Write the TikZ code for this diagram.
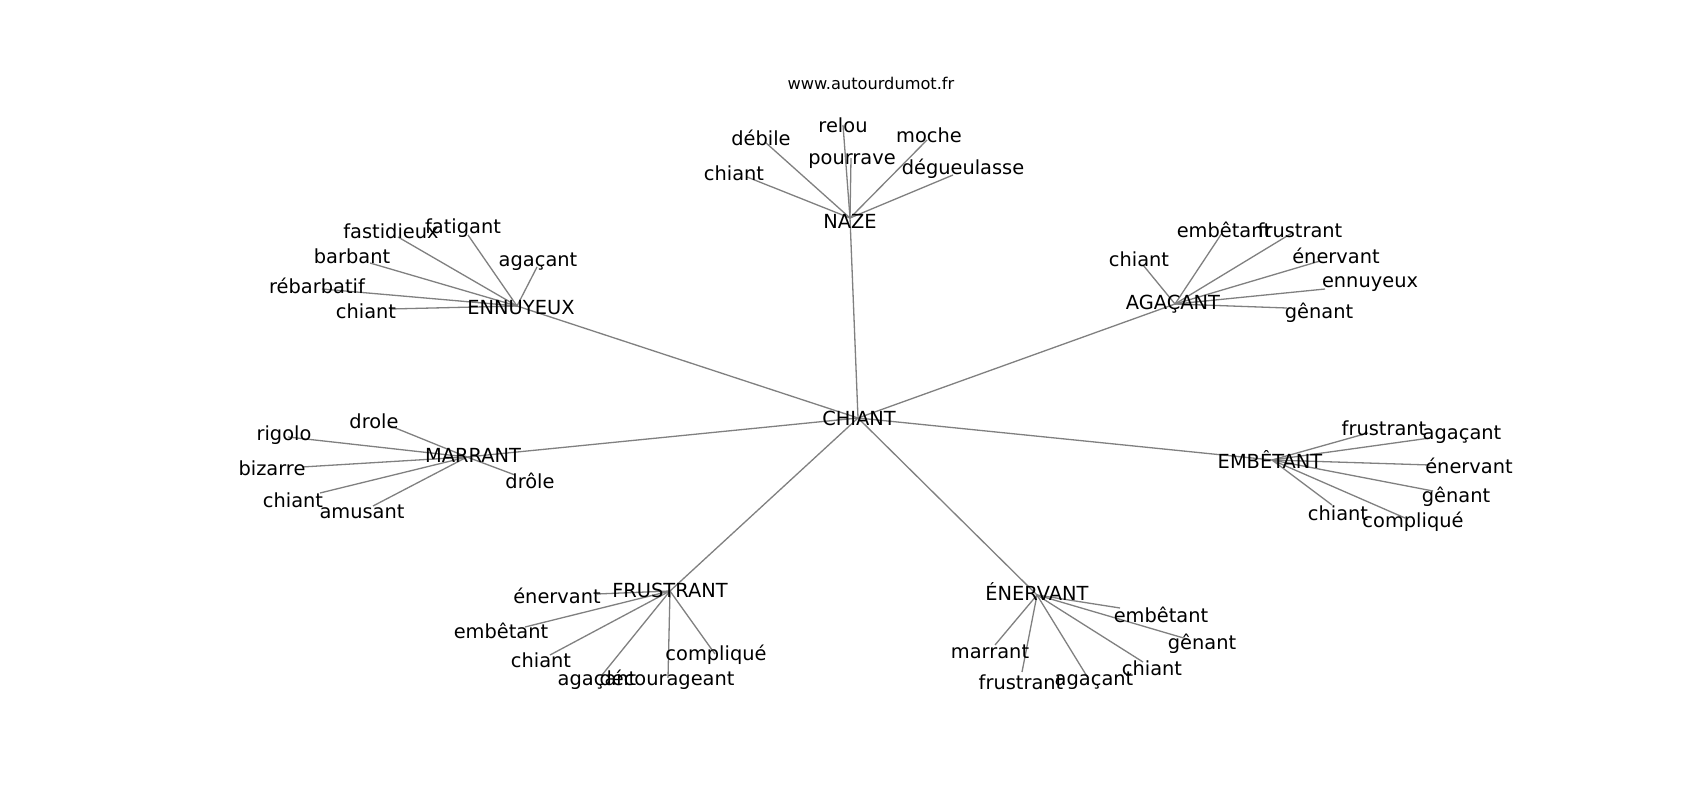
\documentclass[tikz,border=0pt]{standalone}
\usepackage{fontspec}
\setmainfont{DejaVu Sans}
\definecolor{edgec}{HTML}{808080}
\begin{document}
\begin{tikzpicture}[x=1pt,y=-1pt,
  lbl/.style={anchor=base,inner sep=0pt,text=black,font=\fontsize{19.4}{23}\selectfont},
  ttl/.style={anchor=base,inner sep=0pt,text=black,font=\fontsize{16.2}{19}\selectfont},
  edge/.style={draw=edgec,line width=1.3pt}]
\useasboundingbox[fill=white] (0,0) rectangle (1700,800);
% ---- edge end points (node centres)
\coordinate (cH) at (858,418);
% NAZE
\coordinate (cNZ) at (850,218);
\coordinate (cNZa) at (843,125);
\coordinate (cNZb) at (765,142);
\coordinate (cNZc) at (927,140);
\coordinate (cNZd) at (851,158);
\coordinate (cNZe) at (747,177);
\coordinate (cNZf) at (953,175);
% ENNUYEUX
\coordinate (cEN) at (517,306);
\coordinate (cENa) at (398,237);
\coordinate (cENb) at (468,235);
\coordinate (cENc) at (370,263);
\coordinate (cENd) at (537,267);
\coordinate (cENe) at (322,289);
\coordinate (cENf) at (390,309);
% AGACANT
\coordinate (cAG) at (1175,304);
\coordinate (cAGa) at (1222,233);
\coordinate (cAGb) at (1292,233);
\coordinate (cAGc) at (1143,265);
\coordinate (cAGd) at (1320,261);
\coordinate (cAGe) at (1325,289);
\coordinate (cAGf) at (1287,308);
% MARRANT
\coordinate (cMA) at (467,457);
\coordinate (cMAa) at (388,425);
\coordinate (cMAb) at (288,437);
\coordinate (cMAc) at (302,467);
\coordinate (cMAd) at (320,493);
\coordinate (cMAe) at (373,506);
\coordinate (cMAf) at (515,475);
% EMBETANT
\coordinate (cEM) at (1272,460);
\coordinate (cEMa) at (1368,433);
\coordinate (cEMb) at (1430,438);
\coordinate (cEMc) at (1430,465);
\coordinate (cEMd) at (1433,491);
\coordinate (cEMe) at (1332,505);
\coordinate (cEMf) at (1405,518);
% FRUSTRANT
\coordinate (cFR) at (670,591);
\coordinate (cFRa) at (597,594);
\coordinate (cFRb) at (525,627);
\coordinate (cFRc) at (550,655);
\coordinate (cFRd) at (602,675);
\coordinate (cFRe) at (668,678);
\coordinate (cFRf) at (715,654);
% ENERVANT
\coordinate (cER) at (1037,595);
\coordinate (cERa) at (1120,608);
\coordinate (cERb) at (1187,639);
\coordinate (cERc) at (1143,662);
\coordinate (cERd) at (1088,678);
\coordinate (cERe) at (1022,672);
\coordinate (cERf) at (995,645);
% ---- edges
\foreach \t in {NZ,EN,AG,MA,EM,FR,ER} {\draw[edge] (cH) -- (c\t);}
\foreach \t in {NZ,EN,AG,MA,EM,FR,ER} {
  \foreach \s in {a,b,c,d,e,f} {\draw[edge] (c\t) -- (c\t\s);}
}
% ---- labels
\node[ttl] (title) at (871,89) {www.autourdumot.fr};
\node[lbl] (tH) at (859,425) {CHIANT};
% NAZE
\node[lbl] (tNZ) at (850,228) {NAZE};
\node[lbl] (tNZa) at (843,132) {relou};
\node[lbl] (tNZb) at (761,145) {débile};
\node[lbl] (tNZc) at (929,142) {moche};
\node[lbl] (tNZd) at (852,164) {pourrave};
\node[lbl] (tNZe) at (734,180) {chiant};
\node[lbl] (tNZf) at (963,174) {dégueulasse};
% ENNUYEUX
\node[lbl] (tEN) at (521,314) {ENNUYEUX};
\node[lbl] (tENa) at (391,238) {fastidieux};
\node[lbl] (tENb) at (463,233) {fatigant};
\node[lbl] (tENc) at (352,263) {barbant};
\node[lbl] (tENd) at (538,266) {agaçant};
\node[lbl] (tENe) at (317,293) {rébarbatif};
\node[lbl] (tENf) at (366,318) {chiant};
% AGACANT
\node[lbl] (tAG) at (1173,309) {AGAÇANT};
\node[lbl] (tAGa) at (1224,237) {embêtant};
\node[lbl] (tAGb) at (1300,237) {frustrant};
\node[lbl] (tAGc) at (1139,266) {chiant};
\node[lbl] (tAGd) at (1336,263) {énervant};
\node[lbl] (tAGe) at (1370,287) {ennuyeux};
\node[lbl] (tAGf) at (1319,318) {gênant};
% MARRANT
\node[lbl] (tMA) at (473,462) {MARRANT};
\node[lbl] (tMAa) at (374,428) {drole};
\node[lbl] (tMAb) at (284,440) {rigolo};
\node[lbl] (tMAc) at (272,475) {bizarre};
\node[lbl] (tMAd) at (293,507) {chiant};
\node[lbl] (tMAe) at (362,518) {amusant};
\node[lbl] (tMAf) at (530,488) {drôle};
% EMBETANT
\node[lbl] (tEM) at (1270,468) {EMBÊTANT};
\node[lbl] (tEMa) at (1384,435) {frustrant};
\node[lbl] (tEMb) at (1462,439) {agaçant};
\node[lbl] (tEMc) at (1469,473) {énervant};
\node[lbl] (tEMd) at (1456,502) {gênant};
\node[lbl] (tEMe) at (1338,520) {chiant};
\node[lbl] (tEMf) at (1413,527) {compliqué};
% FRUSTRANT
\node[lbl] (tFR) at (670,597) {FRUSTRANT};
\node[lbl] (tFRa) at (557,603) {énervant};
\node[lbl] (tFRb) at (501,638) {embêtant};
\node[lbl] (tFRc) at (541,667) {chiant};
\node[lbl] (tFRd) at (597,685) {agaçant};
\node[lbl] (tFRe) at (667,685) {décourageant};
\node[lbl] (tFRf) at (716,660) {compliqué};
% ENERVANT
\node[lbl] (tER) at (1037,600) {ÉNERVANT};
\node[lbl] (tERa) at (1161,622) {embêtant};
\node[lbl] (tERb) at (1202,649) {gênant};
\node[lbl] (tERc) at (1152,675) {chiant};
\node[lbl] (tERd) at (1094,685) {agaçant};
\node[lbl] (tERe) at (1021,689) {frustrant};
\node[lbl] (tERf) at (990,658) {marrant};
\end{tikzpicture}
\end{document}
